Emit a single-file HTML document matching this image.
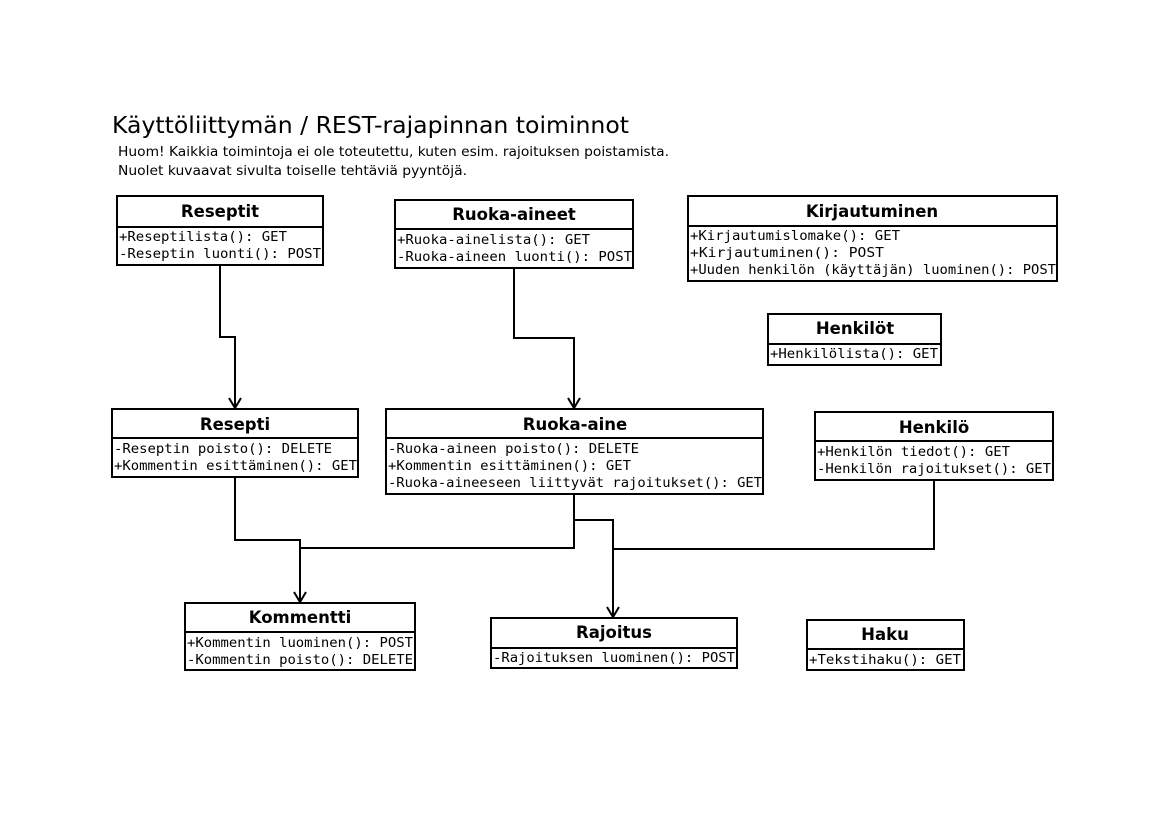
<!DOCTYPE html>
<html><head><meta charset="utf-8"><style>
html,body{margin:0;padding:0;background:#fff;}
svg text{font-family:"DejaVu Sans","Liberation Sans",sans-serif;fill:#000;}
.t{font-weight:bold;font-size:16.5px;text-anchor:middle;}
.m{font-family:"DejaVu Sans Mono","Liberation Mono",monospace;font-size:13px;}
</style></head><body>
<svg width="1169" height="826" viewBox="0 0 1169 826" xmlns="http://www.w3.org/2000/svg">
<text x="112" y="133" style="font-size:23.5px" textLength="517" lengthAdjust="spacingAndGlyphs">Käyttöliittymän / REST-rajapinnan toiminnot</text>
<text x="118" y="156" style="font-size:13.5px" textLength="551" lengthAdjust="spacingAndGlyphs">Huom! Kaikkia toimintoja ei ole toteutettu, kuten esim. rajoituksen poistamista.</text>
<text x="118" y="175" style="font-size:13.5px" textLength="349" lengthAdjust="spacingAndGlyphs">Nuolet kuvaavat sivulta toiselle tehtäviä pyyntöjä.</text>

<g fill="none" stroke="#000" stroke-width="2">
<rect x="117" y="196" width="206" height="69"/><line x1="117" y1="227" x2="323" y2="227"/>
<rect x="395" y="200" width="238" height="68"/><line x1="395" y1="229" x2="633" y2="229"/>
<rect x="688" y="196" width="369" height="85"/><line x1="688" y1="226" x2="1057" y2="226"/>
<rect x="768" y="314" width="173" height="51"/><line x1="768" y1="344" x2="941" y2="344"/>
<rect x="112" y="409" width="246" height="68"/><line x1="112" y1="438" x2="358" y2="438"/>
<rect x="386" y="409" width="377" height="85"/><line x1="386" y1="438" x2="763" y2="438"/>
<rect x="815" y="412" width="238" height="68"/><line x1="815" y1="441" x2="1053" y2="441"/>
<rect x="185" y="603" width="230" height="67"/><line x1="185" y1="632" x2="415" y2="632"/>
<rect x="491" y="618" width="246" height="50"/><line x1="491" y1="648" x2="737" y2="648"/>
<rect x="807" y="620" width="157" height="50"/><line x1="807" y1="649" x2="964" y2="649"/>

<polyline points="220,265 220,337 235,337 235,408"/>
<polyline points="514,268 514,338 574,338 574,408"/>
<polyline points="235,477 235,540 300,540 300,602"/>
<polyline points="574,494 574,548 300,548"/>
<polyline points="574,520 613,520 613,617"/>
<polyline points="934,480 934,549 613,549"/>
<polyline points="229,398 235,408 241,398"/>
<polyline points="568,398 574,408 580,398"/>
<polyline points="294,592 300,602 306,592"/>
<polyline points="607,607 613,617 619,607"/>
</g>

<text class="t" x="220" y="217">Reseptit</text>
<text class="t" x="514" y="220">Ruoka-aineet</text>
<text class="t" x="872" y="217">Kirjautuminen</text>
<text class="t" x="855" y="334">Henkilöt</text>
<text class="t" x="235" y="430">Resepti</text>
<text class="t" x="575" y="430">Ruoka-aine</text>
<text class="t" x="934" y="433">Henkilö</text>
<text class="t" x="300" y="623">Kommentti</text>
<text class="t" x="614" y="638">Rajoitus</text>
<text class="t" x="885" y="640">Haku</text>

<text class="m" x="119" y="241" textLength="168" lengthAdjust="spacingAndGlyphs">+Reseptilista(): GET</text>
<text class="m" x="119" y="258" textLength="202" lengthAdjust="spacingAndGlyphs">-Reseptin luonti(): POST</text>
<text class="m" x="397" y="244" textLength="193" lengthAdjust="spacingAndGlyphs">+Ruoka-ainelista(): GET</text>
<text class="m" x="397" y="261" textLength="235" lengthAdjust="spacingAndGlyphs">-Ruoka-aineen luonti(): POST</text>
<text class="m" x="690" y="240" textLength="210" lengthAdjust="spacingAndGlyphs">+Kirjautumislomake(): GET</text>
<text class="m" x="690" y="257" textLength="194" lengthAdjust="spacingAndGlyphs">+Kirjautuminen(): POST</text>
<text class="m" x="690" y="274" textLength="366" lengthAdjust="spacingAndGlyphs">+Uuden henkilön (käyttäjän) luominen(): POST</text>
<text class="m" x="770" y="358" textLength="168" lengthAdjust="spacingAndGlyphs">+Henkilölista(): GET</text>
<text class="m" x="114" y="453" textLength="218" lengthAdjust="spacingAndGlyphs">-Reseptin poisto(): DELETE</text>
<text class="m" x="114" y="470" textLength="243" lengthAdjust="spacingAndGlyphs">+Kommentin esittäminen(): GET</text>
<text class="m" x="388" y="453" textLength="251" lengthAdjust="spacingAndGlyphs">-Ruoka-aineen poisto(): DELETE</text>
<text class="m" x="388" y="470" textLength="243" lengthAdjust="spacingAndGlyphs">+Kommentin esittäminen(): GET</text>
<text class="m" x="388" y="487" textLength="374" lengthAdjust="spacingAndGlyphs">-Ruoka-aineeseen liittyvät rajoitukset(): GET</text>
<text class="m" x="817" y="456" textLength="193" lengthAdjust="spacingAndGlyphs">+Henkilön tiedot(): GET</text>
<text class="m" x="817" y="473" textLength="234" lengthAdjust="spacingAndGlyphs">-Henkilön rajoitukset(): GET</text>
<text class="m" x="187" y="647" textLength="226" lengthAdjust="spacingAndGlyphs">+Kommentin luominen(): POST</text>
<text class="m" x="187" y="664" textLength="226" lengthAdjust="spacingAndGlyphs">-Kommentin poisto(): DELETE</text>
<text class="m" x="493" y="662" textLength="242" lengthAdjust="spacingAndGlyphs">-Rajoituksen luominen(): POST</text>
<text class="m" x="809" y="664" textLength="152" lengthAdjust="spacingAndGlyphs">+Tekstihaku(): GET</text>
</svg>
</body></html>
